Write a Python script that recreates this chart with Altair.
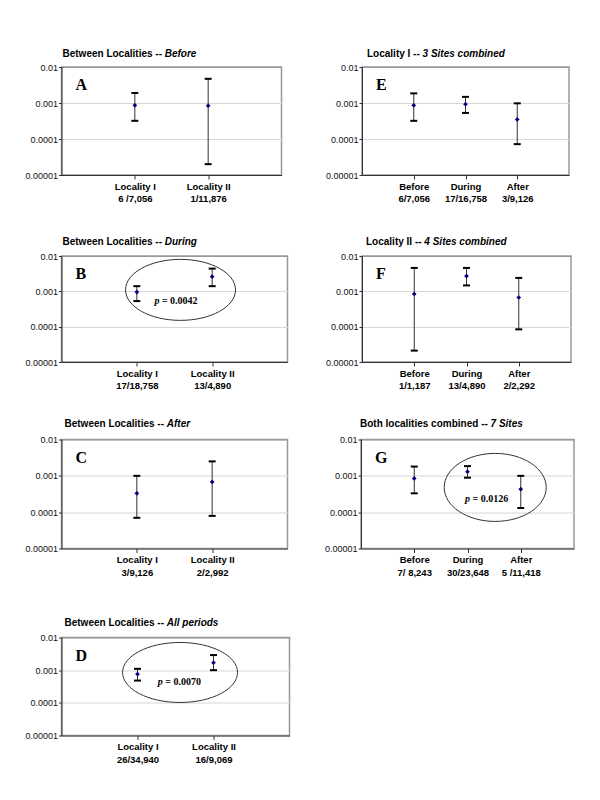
import altair as alt
import pandas as pd

FONT = "Liberation Sans"
SERIF = "Liberation Serif"

# ---------------- data ----------------
A_cats = ["Locality I", "Locality II"]
A_counts = ["6 /7,056", "1/11,876"]
A_rate = [0.00086, 0.00084]
A_lo = [0.00032, 0.00002]
A_hi = [0.0019, 0.0047]

B_cats = ["Locality I", "Locality II"]
B_counts = ["17/18,758", "13/4,890"]
B_rate = [0.00095, 0.0026]
B_lo = [0.00053, 0.0014]
B_hi = [0.0014, 0.0044]

C_cats = ["Locality I", "Locality II"]
C_counts = ["3/9,126", "2/2,992"]
C_rate = [0.00033, 0.00068]
C_lo = [0.00007, 0.000079]
C_hi = [0.001, 0.0025]

D_cats = ["Locality I", "Locality II"]
D_counts = ["26/34,940", "16/9,069"]
D_rate = [0.00076, 0.0017]
D_lo = [0.00048, 0.001]
D_hi = [0.0011, 0.0029]

E_cats = ["Before", "During", "After"]
E_counts = ["6/7,056", "17/16,758", "3/9,126"]
E_rate = [0.00086, 0.00093, 0.00035]
E_lo = [0.00032, 0.00053, 0.000072]
E_hi = [0.00185, 0.00148, 0.00098]

F_cats = ["Before", "During", "After"]
F_counts = ["1/1,187", "13/4,890", "2/2,292"]
F_rate = [0.00084, 0.0027, 0.00067]
F_lo = [0.000021, 0.00147, 0.000084]
F_hi = [0.0046, 0.0046, 0.0024]

G_cats = ["Before", "During", "After"]
G_counts = ["7/ 8,243", "30/23,648", "5 /11,418"]
G_rate = [0.00085, 0.0013, 0.00043]
G_lo = [0.00033, 0.00089, 0.00013]
G_hi = [0.0018, 0.00185, 0.001]

Y_TICKS = [0.00001, 0.0001, 0.001, 0.01]

# ---------------- font metrics (Arial/Times compatible) ----------------
ARIAL_BOLD = {"B": 722, "e": 556, "t": 333, "w": 778, "n": 611, " ": 278, "L": 611,
              "o": 611, "c": 556, "a": 556, "l": 278, "i": 278, "s": 556, "-": 333,
              "I": 278, "h": 611, "m": 889, "b": 611, "d": 611, "y": 556}
TIMES_BOLD = {" ": 250, "=": 570, ".": 250}


def arial_bold_w(s, size):
    return sum(ARIAL_BOLD.get(ch, 556) for ch in s) / 1000 * size


def times_bold_w(s, size):
    return sum(TIMES_BOLD.get(ch, 500) for ch in s) / 1000 * size


def panel(letter, t_bold, t_ital, cats, counts, rate, lo, hi, width, height,
          title_dy, title_dx, ellipse=None, ptext=None):
    n = len(cats)
    df = pd.DataFrame({"pos": list(range(1, n + 1)), "rate": rate, "lo": lo, "hi": hi})
    parts = []
    for i in range(n):
        parts.append(f"datum.value == {i + 1} ? ['{cats[i]}', '{counts[i]}'] : ")
    expr = "".join(parts) + "''"

    xscale = alt.Scale(domain=[0, n + 1], nice=False, zero=False)
    xaxis = alt.Axis(values=list(range(1, n + 1)), labelExpr=expr, title=None, grid=False,
                     tickSize=4, tickColor="#333", domainColor="#333",
                     labelFont=FONT, labelFontSize=9.5, labelFontWeight="bold",
                     labelColor="#000", labelPadding=2, labelLineHeight=12.5,
                     labelOverlap=False, labelBound=False, labelFlush=False)
    yscale = alt.Scale(type="log", domain=[0.00001, 0.01], nice=False)
    yaxis = alt.Axis(values=Y_TICKS, format=".5~f", title=None, grid=True,
                     gridColor={"condition": {"test": "datum.value > 0.005", "value": "#999999"},
                                "value": "#d6d6d6"},
                     tickSize=3, tickColor="#333", domainColor="#333",
                     labelFont=FONT, labelFontSize=9, labelColor="#111", labelPadding=1,
                     labelOverlap=False)

    def X(f):
        return alt.X(f"{f}:Q", scale=xscale, axis=xaxis)

    def Y(f):
        return alt.Y(f"{f}:Q", scale=yscale, axis=yaxis)

    base = alt.Chart(df)
    stem = base.mark_rule(color="#333333", strokeWidth=1).encode(x=X("pos"), y=Y("lo"), y2="hi")
    cap_lo = base.mark_tick(orient="horizontal", size=7, thickness=2, color="#000",
                            opacity=1).encode(x=X("pos"), y=Y("lo"))
    cap_hi = base.mark_tick(orient="horizontal", size=7, thickness=2, color="#000",
                            opacity=1).encode(x=X("pos"), y=Y("hi"))
    pts = base.mark_point(shape="diamond", filled=True, size=22, color="#000080",
                          opacity=1).encode(x=X("pos"), y=Y("rate"))

    tdf = pd.DataFrame({"a": [t_bold.rstrip()], "b": [t_ital], "L": [letter]})
    tch = alt.Chart(tdf)
    title1 = tch.mark_text(font=FONT, fontSize=10, fontWeight="bold", align="left",
                           baseline="middle", color="#000").encode(
        x=alt.value(title_dx), y=alt.value(-title_dy), text="a:N")
    title2 = tch.mark_text(font=FONT, fontSize=10, fontWeight="bold", fontStyle="italic",
                           align="left", baseline="middle", color="#000").encode(
        x=alt.value(title_dx + arial_bold_w(t_bold, 10)), y=alt.value(-title_dy), text="b:N")
    let = tch.mark_text(font=SERIF, fontSize=16, fontWeight="bold", align="left",
                        baseline="alphabetic", color="#000").encode(
        x=alt.value(14), y=alt.value(23), text="L:N")

    layers = [stem, cap_lo, cap_hi, pts, title1, title2, let]

    if ellipse is not None:
        ex, ey, ew, eh = ellipse
        r = eh / ew
        path = f"M -1 0 A 1 {r:.4f} 0 1 1 1 0 A 1 {r:.4f} 0 1 1 -1 0 Z"
        edf = pd.DataFrame({"pos": [ex], "val": [ey]})
        ell = alt.Chart(edf).mark_point(shape=path, size=ew * ew, filled=False,
                                        color="#333333", strokeWidth=1, opacity=1).encode(
            x=X("pos"), y=Y("val"))
        layers.append(ell)
    if ptext is not None:
        px, py, pval = ptext
        rest = f"= {pval}"
        wp = 5.0 + 2.5
        total = wp + times_bold_w(rest, 10)
        pdf = pd.DataFrame({"pos": [px], "val": [py], "p": ["p"], "r": [rest]})
        pch = alt.Chart(pdf)
        p1 = pch.mark_text(font=SERIF, fontSize=10, fontStyle="italic", fontWeight="bold",
                           align="left", baseline="middle", dx=-total / 2, color="#000").encode(
            x=X("pos"), y=Y("val"), text="p:N")
        p2 = pch.mark_text(font=SERIF, fontSize=10, fontWeight="bold", align="left",
                           baseline="middle", dx=-total / 2 + wp, color="#000").encode(
            x=X("pos"), y=Y("val"), text="r:N")
        layers += [p1, p2]

    return alt.layer(*layers).properties(width=width, height=height)


pA = panel("A", "Between Localities -- ", "Before", A_cats, A_counts, A_rate, A_lo, A_hi,
           220, 108, 13, 1)
pE = panel("E", "Locality I -- ", "3 Sites combined", E_cats, E_counts, E_rate, E_lo, E_hi,
           207, 108, 13, 5)
pB = panel("B", "Between Localities -- ", "During", B_cats, B_counts, B_rate, B_lo, B_hi,
           226, 106, 14, 1, ellipse=(1.58, 0.0011, 110, 61), ptext=(1.52, 0.00053, "0.0042"))
pF = panel("F", "Locality II -- ", "4 Sites combined", F_cats, F_counts, F_rate, F_lo, F_hi,
           209, 106, 14, 4)
pC = panel("C", "Between Localities -- ", "After", C_cats, C_counts, C_rate, C_lo, C_hi,
           226, 109, 15.3, 3)
pG = panel("G", "Both localities combined -- ", "7 Sites", G_cats, G_counts, G_rate, G_lo, G_hi,
           213, 109, 15.3, -1, ellipse=(2.52, 0.00048, 102, 68), ptext=(2.36, 0.000227, "0.0126"))
pD = panel("D", "Between Localities -- ", "All periods", D_cats, D_counts, D_rate, D_lo, D_hi,
           228, 98, 15, 3, ellipse=(1.56, 0.00085, 115, 60), ptext=(1.55, 0.00042, "0.0070"))

row1 = alt.hconcat(pA, pE, spacing=41.5)
row2 = alt.hconcat(pB, pF, spacing=35.5)
row3 = alt.hconcat(pC, pG, spacing=34.5)

chart = alt.vconcat(
    alt.vconcat(row1, row2, spacing=32),
    alt.vconcat(row3, pD, spacing=39),
    spacing=26.5,
).properties(
    padding={"left": 15.5, "top": 40, "right": 0, "bottom": 0},
    background="white",
).configure_view(stroke="#999999", strokeWidth=1.5)

chart.save("out.html", embed_options={"renderer": "svg", "actions": False})
